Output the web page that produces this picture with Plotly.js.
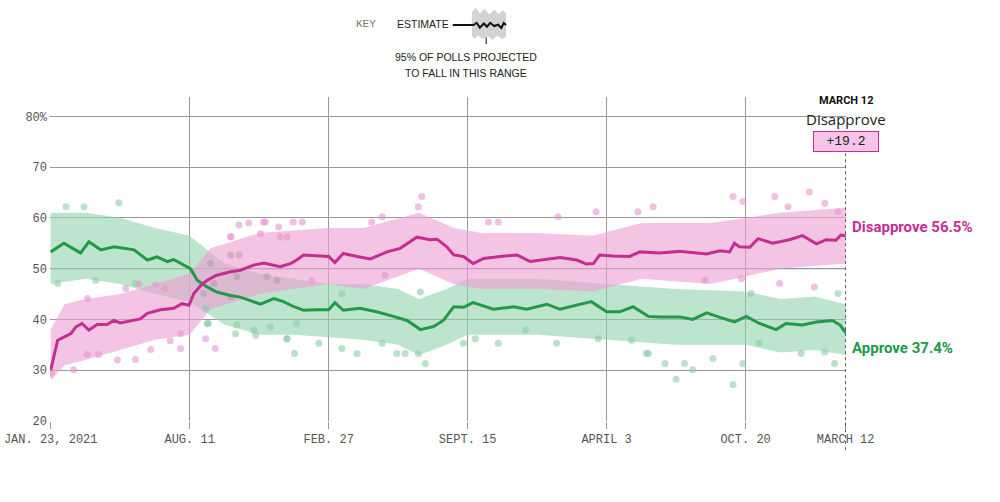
<!DOCTYPE html>
<html>
<head>
<meta charset="utf-8">
<script src="https://cdn.plot.ly/plotly-3.0.1.min.js"></script>
<style>html,body{margin:0;padding:0;background:#fff;}#chart{width:1000px;height:502px;}</style>
</head>
<body>
<div id="chart"></div>
<script>
// x values are days since Jan. 23, 2021
const tickDays = [0, 200, 400, 600, 800, 1000, 1144];
const tickLabels = ['JAN. 23, 2021', 'AUG. 11', 'FEB. 27', 'SEPT. 15', 'APRIL 3', 'OCT. 20', 'MARCH 12'];
const yTicks = [20, 30, 40, 50, 60, 70, 80];
const yLabels = ['20', '30', '40', '50', '60', '70', '80%'];

// Disapprove estimate
const disDays = [0,5,10,19,29,36,45,55,67,81,91,100,120,129,139,158,177,189,199,206,216,225,239,259,273,292,307,321,330,345,354,364,383,400,409,421,441,460,484,503,527,546,556,570,580,594,608,623,647,671,690,714,733,757,771,781,790,809,833,848,876,905,924,944,963,977,984,991,1006,1018,1039,1063,1082,1102,1116,1130,1137,1144];
const disValues = [30.0,33.3,35.9,36.5,37.2,38.5,39.2,37.9,39.0,39.0,39.8,39.3,39.8,40.1,41.2,41.9,42.2,43.1,42.8,45.1,46.7,47.7,48.7,49.4,49.7,50.7,51.1,50.7,50.4,51.0,51.7,52.7,52.5,52.4,51.2,53.0,52.4,51.9,53.3,54.0,56.2,55.7,55.8,54.3,52.7,52.4,51.0,52.0,52.4,52.7,51.4,51.8,52.2,51.7,50.9,51.0,52.7,52.5,52.4,53.3,53.1,53.4,53.1,52.9,53.5,53.3,55.0,54.3,54.2,55.9,55.0,55.7,56.5,54.9,55.7,55.6,56.6,56.5];

// Approve estimate
const appDays = [0,19,43,55,72,91,120,139,153,168,177,187,201,211,225,239,259,273,292,302,321,335,350,364,383,400,409,421,445,469,493,513,532,551,565,580,594,608,637,666,685,714,733,761,778,800,819,838,860,876,905,924,944,963,984,1001,1020,1044,1058,1082,1102,1125,1136,1144];
const appValues = [53.3,55.0,53.1,55.3,53.7,54.3,53.7,51.7,52.3,51.4,51.8,51.0,50.0,47.7,46.4,45.4,44.7,44.4,43.5,43.0,44.1,43.5,42.5,41.8,41.9,41.9,43.3,41.8,42.2,41.5,40.6,39.8,38.0,38.6,39.8,42.5,42.4,43.3,42.0,42.5,42.0,43.0,42.0,43.0,43.5,41.5,41.5,42.5,40.6,40.5,40.5,40.0,41.3,40.4,39.5,40.6,39.2,38.0,39.2,38.9,39.5,39.8,38.9,37.4];

// Net margin shown in the callout (as printed)
const netMargin = 19.2;

// 95% ranges
const appBandDays = [0,50,100,150,200,250,300,350,400,450,500,530,570,600,700,800,900,1000,1050,1100,1144];
const appUpper = [61,61,60,58,56.5,51,49,48,47,47,46,44,46,48,48,47,46,45.5,44,44.5,43];
const appLower = [47,48,47,45,43.5,39,37,37,36.5,36,35,33,35,37,37,36,35,35,33.5,34,33];
const disBandDays = [0,20,50,100,150,200,230,300,400,450,530,580,620,700,780,850,950,1050,1144];
const disUpper = [38,43,44,45,47,49,54,57,58,58,61,58,57,57,56.5,59,59,61,62];
const disLower = [28,31,32,34,36,37,42,45,47,46,50,47,46,46,45.5,48,47,50,51];

// Individual polls (visible ones)
const disPollDays = [1,33,53,69,96,122,144,172,187,187,223,237,53,108,127,151,165,259,271,285,306,309,328,349,362,376,462,477,481,529,534,630,644,730,785,845,867,941,982,994,996,1042,1049,1061,1092,1099,1114,1133,259,302,330,340];
const disPollValues = [29.3,30.1,33.1,33.1,32.0,32.1,34.1,35.8,34.3,37.2,36.2,34.3,44.1,46.1,47.0,46.8,46.1,56.3,58.6,59.0,59.2,59.2,58.2,59.2,59.2,47.7,59.2,60.2,48.7,62.2,64.2,59.2,59.2,60.2,61.2,61.2,62.2,47.7,64.2,48.0,63.2,64.2,47.1,62.2,65.1,46.4,62.9,61.2,56.3,56.9,56.3,56.3];
const appPollDays = [22,48,98,10,65,122,227,266,223,386,351,419,441,498,510,529,539,477,340,295,532,419,728,644,594,611,788,836,857,683,900,982,924,884,912,953,996,1080,1128,1020,860,1114,1008,1133,225,268,292,316,340,354];
const appPollValues = [62.2,62.2,63.0,47.1,47.7,47.1,39.2,37.2,42.2,35.3,33.3,34.3,33.3,33.3,33.3,33.3,31.3,35.3,36.2,36.9,45.4,45.1,35.3,35.3,35.3,36.2,36.2,35.9,33.3,37.9,28.2,27.2,30.1,31.3,31.3,32.3,31.3,33.3,31.3,35.3,33.3,33.6,45.1,45.1,39.2,38.9,37.9,38.5,36.2,39.2];
// Polls where both series overlap (drawn greyish)
const mixPollDays = [259,271,230,235,268,311,326,259,220];
const mixPollValues = [52.7,52.7,51.0,47.1,48.4,48.4,47.7,44.4,45.1];

const PINK = '#c62d93';
const GREEN = '#22994a';
const lastDay = disDays[disDays.length - 1];
const lastDis = disValues[disValues.length - 1];
const lastApp = appValues[appValues.length - 1];

const traces = [
  {x: appBandDays, y: appUpper, mode: 'lines', line: {width: 0}, hoverinfo: 'skip'},
  {x: appBandDays, y: appLower, mode: 'lines', line: {width: 0}, fill: 'tonexty', fillcolor: 'rgba(145,212,172,0.6)', hoverinfo: 'skip'},
  {x: disBandDays, y: disUpper, mode: 'lines', line: {width: 0}, hoverinfo: 'skip'},
  {x: disBandDays, y: disLower, mode: 'lines', line: {width: 0}, fill: 'tonexty', fillcolor: 'rgba(238,160,212,0.62)', hoverinfo: 'skip'},
  {x: appPollDays, y: appPollValues, mode: 'markers', marker: {size: 7, color: 'rgba(140,205,165,0.6)'}},
  {x: disPollDays, y: disPollValues, mode: 'markers', marker: {size: 7, color: 'rgba(232,150,205,0.6)'}},
  {x: mixPollDays, y: mixPollValues, mode: 'markers', marker: {size: 7, color: 'rgba(170,145,160,0.45)'}},
  {x: appDays, y: appValues, mode: 'lines', line: {color: GREEN, width: 3}},
  {x: disDays, y: disValues, mode: 'lines', line: {color: PINK, width: 3}}
];

const monoFont = {family: 'Liberation Mono, DejaVu Sans Mono, monospace', size: 12, color: '#555'};
const keyFont = {family: 'Liberation Sans, Arial, sans-serif', size: 10.5, color: '#222'};

const layout = {
  width: 1000, height: 502,
  margin: {l: 50, r: 154, t: 97, b: 81},
  paper_bgcolor: '#fff', plot_bgcolor: '#fff',
  showlegend: false,
  xaxis: {
    range: [-1, 1144.5], tickmode: 'array', tickvals: tickDays, ticktext: tickLabels,
    showgrid: true, gridcolor: '#999', gridwidth: 1, zeroline: false, showline: false,
    ticks: 'outside', ticklen: 7, tickcolor: '#999', tickfont: monoFont, fixedrange: true
  },
  yaxis: {
    range: [20, 83.8], tickmode: 'array', tickvals: yTicks, ticktext: yLabels,
    showgrid: true, gridcolor: '#999', gridwidth: 1, zeroline: false, showline: false,
    ticks: '', tickfont: monoFont, ticklabelstandoff: 2, fixedrange: true
  },
  shapes: [
    {type: 'line', xref: 'paper', yref: 'y', x0: 0, x1: 1, y0: 50, y1: 50, line: {color: '#333', width: 1}, layer: 'below'},
    {type: 'line', xref: 'x', yref: 'paper', x0: lastDay, x1: lastDay, y0: -0.09, y1: 0.835, line: {color: '#444', width: 1, dash: 'dot'}},
    // key: range band
    {type: 'path', xref: 'paper', yref: 'paper',
     path: 'M 0.530,1.262 L 0.535,1.275 L 0.540,1.258 L 0.546,1.272 L 0.552,1.255 L 0.558,1.270 L 0.564,1.256 L 0.569,1.268 L 0.573,1.258 L 0.573,1.186 L 0.568,1.178 L 0.562,1.190 L 0.556,1.176 L 0.550,1.188 L 0.544,1.178 L 0.538,1.190 L 0.533,1.180 L 0.530,1.188 Z',
     fillcolor: '#d3d3d3', line: {width: 0}},
    // key: estimate line
    {type: 'path', xref: 'paper', yref: 'paper',
     path: 'M 0.506,1.222 L 0.532,1.222 L 0.536,1.229 L 0.540,1.214 L 0.545,1.227 L 0.549,1.217 L 0.553,1.229 L 0.558,1.219 L 0.563,1.223 L 0.567,1.213 L 0.570,1.228 L 0.573,1.222',
     line: {color: '#111', width: 2}},
    {type: 'line', xref: 'paper', yref: 'paper', x0: 0.548, x1: 0.548, y0: 1.163, y1: 1.184, line: {color: '#111', width: 1}}
  ],
  annotations: [
    {xref: 'paper', yref: 'paper', x: 0.397, y: 1.225, xanchor: 'center', yanchor: 'middle', text: 'KEY', showarrow: false,
     font: {family: 'Liberation Mono, monospace', size: 11, color: '#777'}},
    {xref: 'paper', yref: 'paper', x: 0.504, y: 1.225, xanchor: 'right', yanchor: 'middle', text: 'ESTIMATE', showarrow: false, font: keyFont},
    {xref: 'paper', yref: 'paper', x: 0.523, y: 1.123, xanchor: 'center', yanchor: 'middle', text: '95% OF POLLS PROJECTED', showarrow: false, font: keyFont},
    {xref: 'paper', yref: 'paper', x: 0.523, y: 1.074, xanchor: 'center', yanchor: 'middle', text: 'TO FALL IN THIS RANGE', showarrow: false, font: keyFont},
    {xref: 'x', yref: 'paper', x: lastDay, y: 0.988, xanchor: 'center', yanchor: 'middle', text: '<b>MARCH 12</b>', showarrow: false,
     font: {family: 'Roboto, Liberation Sans, sans-serif', size: 11, color: '#111'}},
    {xref: 'x', yref: 'paper', x: lastDay, y: 0.932, xanchor: 'center', yanchor: 'middle', text: 'Disapprove', showarrow: false,
     font: {family: 'Open Sans, Liberation Sans, sans-serif', size: 15, color: '#222'}},
    {xref: 'x', yref: 'paper', x: lastDay, y: 0.862, xanchor: 'center', yanchor: 'middle', text: '+' + netMargin.toFixed(1), showarrow: false,
     font: {family: 'Liberation Mono, monospace', size: 13, color: '#222'},
     bgcolor: '#f6c4e8', bordercolor: PINK, borderwidth: 1, borderpad: 2, width: 60},
    {xref: 'x', yref: 'y', x: lastDay, y: lastDis, xanchor: 'left', yanchor: 'middle', xshift: 4, yshift: 9,
     text: '<b>Disapprove ' + lastDis.toFixed(1) + '%</b>', showarrow: false,
     font: {family: 'Roboto, Liberation Sans, sans-serif', size: 15, color: PINK}},
    {xref: 'x', yref: 'y', x: lastDay, y: lastApp, xanchor: 'left', yanchor: 'middle', xshift: 4, yshift: -15,
     text: '<b>Approve ' + lastApp.toFixed(1) + '%</b>', showarrow: false,
     font: {family: 'Roboto, Liberation Sans, sans-serif', size: 15, color: GREEN}}
  ]
};

Plotly.newPlot('chart', traces, layout, {displayModeBar: false, staticPlot: true});
</script>
</body>
</html>
